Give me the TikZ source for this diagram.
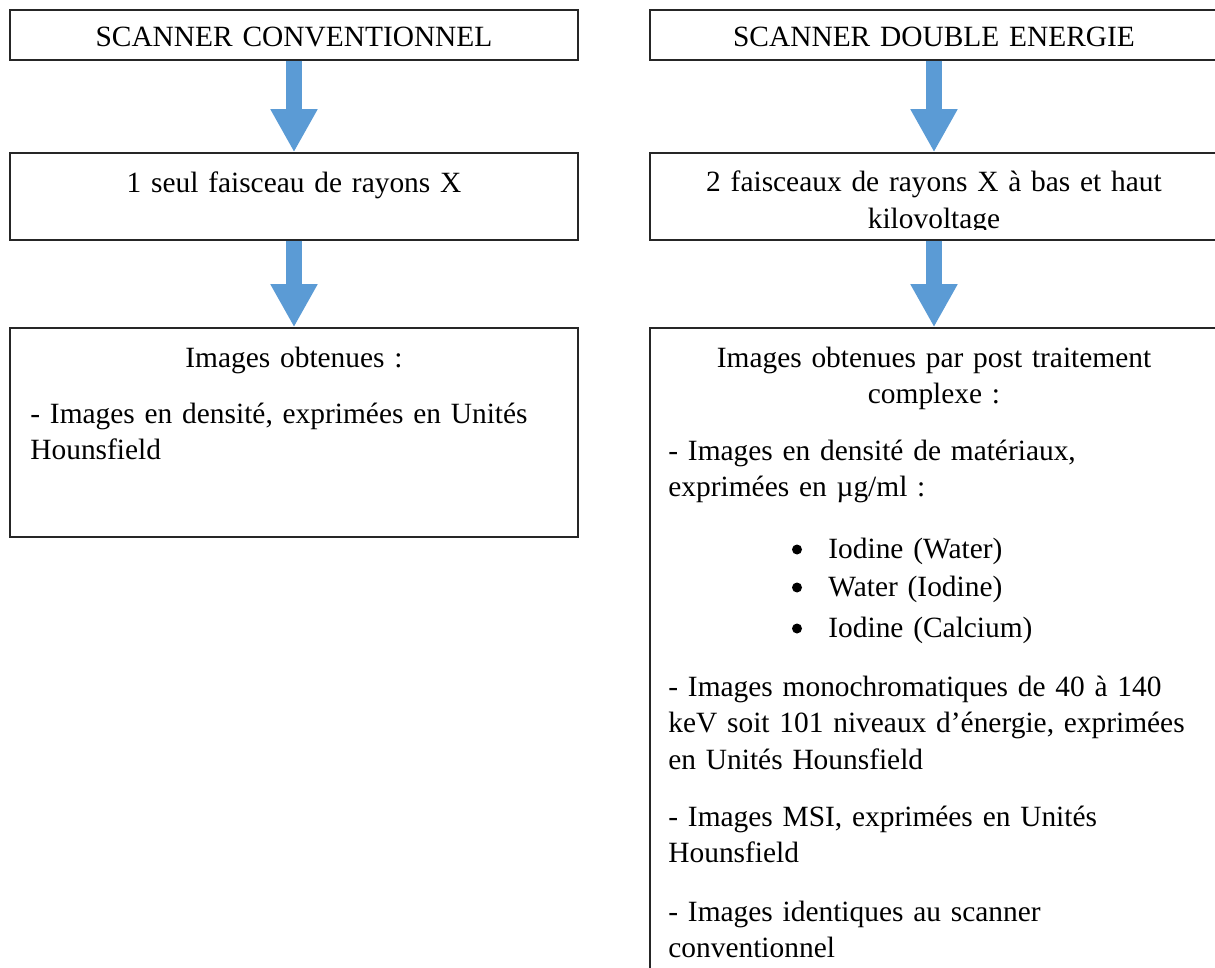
\documentclass[tikz,border=0pt]{standalone}
\usepackage{fontspec}
\setmainfont[WordSpace=0.85]{Liberation Serif}
\usetikzlibrary{arrows.meta}
\definecolor{flowblue}{HTML}{5B9BD5}
\definecolor{boxline}{HTML}{262626}

\begin{document}
\begin{tikzpicture}[x=0.5pt, y=-0.5pt,
  box/.style={draw=boxline, line width=0.75pt, minimum width=284pt, inner sep=0pt},
  txt/.style={inner sep=0pt, font=\fontsize{14.7}{18.25}\selectfont, text width=300pt},
  flow/.style={flowblue, line width=7.75pt, -{Triangle[length=21.5pt, width=22pt]}}]

\useasboundingbox (0,0) rectangle (1215,968);
\clip (0,0) rectangle (1215,968);

% left column
\node[box, minimum height=25pt] (convA) at (294,35) {};
\node[txt, align=center, anchor=base] (convT) at (294,47) {SCANNER CONVENTIONNEL};

\node[box, minimum height=43.5pt] (convB) at (294,196.5) {};
\node[txt, align=center, anchor=base] (convBT) at (294,193) {1 seul faisceau de rayons X};

\node[box, minimum height=104.5pt] (convC) at (294,432.5) {};
\node[txt, align=center, anchor=base] (convCT) at (294,367) {Images obtenues :};
\node[txt, align=left, anchor=base west] (convC1) at (30,423)
  {- Images en densité, exprimées en Unités\\Hounsfield};

\draw[flow] (convA.south) -- (convB.north);
\draw[flow] (convB.south) -- (convC.north);

% right column
\node[box, minimum height=25pt] (dualA) at (934,35) {};
\node[txt, align=center, anchor=base] (dualT) at (934,47) {SCANNER DOUBLE ENERGIE};

\node[box, minimum height=43.5pt] (dualB) at (934,196.5) {};
\begin{scope}
\clip (650,153) rectangle (1220,230);
\node[txt, align=center, anchor=base] (dualBT) at (934,192)
  {2 faisceaux de rayons X à bas et haut\\kilovoltage};
\end{scope}

\node[box, minimum height=336pt] (dualC) at (934,664) {};
\node[txt, align=center, anchor=base] (dualCT) at (934,367)
  {Images obtenues par post traitement\\complexe :};
\node[txt, align=left, anchor=base west] (dualC1) at (668,460)
  {- Images en densité de matériaux,\\exprimées en µg/ml :};
\node[txt, align=left, anchor=base west] (iodW) at (828,558) {Iodine (Water)};
\node[txt, align=left, anchor=base west] (watI) at (828,596) {Water (Iodine)};
\node[txt, align=left, anchor=base west] (iodC) at (828,637) {Iodine (Calcium)};
\fill (797,549.5) circle[radius=2.5pt];
\fill (797,587.5) circle[radius=2.5pt];
\fill (797,628.5) circle[radius=2.5pt];
\node[txt, align=left, anchor=base west] (dualC2) at (668,696)
  {- Images monochromatiques de 40 à 140\\keV soit 101 niveaux d’énergie, exprimées\\en Unités Hounsfield};
\node[txt, align=left, anchor=base west] (dualC3) at (668,826)
  {- Images MSI, exprimées en Unités\\Hounsfield};
\node[txt, align=left, anchor=base west] (dualC4) at (668,921)
  {- Images identiques au scanner\\conventionnel};

\draw[flow] (dualA.south) -- (dualB.north);
\draw[flow] (dualB.south) -- (dualC.north);
\end{tikzpicture}
\end{document}
